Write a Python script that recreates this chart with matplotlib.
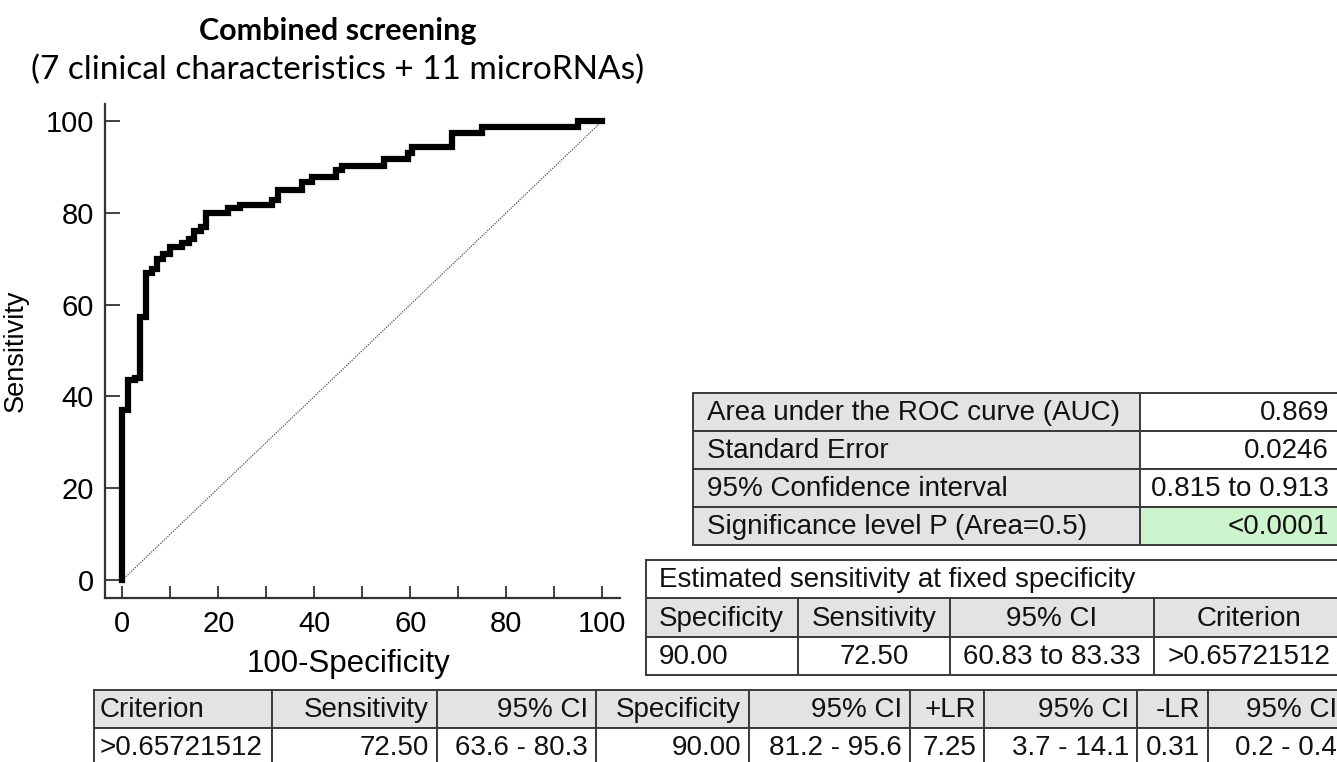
"""ROC curve of the combined screening model with its summary tables."""

import matplotlib
matplotlib.use("Agg")
import matplotlib.pyplot as plt
from matplotlib.patches import Rectangle

W, H = 1337, 762
TABLE_FONT = "Liberation Sans"

# ROC curve: 100-specificity at each step and the sensitivity reached there
roc_fpr = [0, 0, 1.25, 2.6, 3.7, 5.0, 6.2, 7.2, 8.4, 10.0, 12.5, 13.8, 15.0, 16.3,
           17.5, 22.0, 24.5, 31.2, 32.5, 37.5, 39.5, 44.5, 45.8, 54.5, 59.6, 60.3,
           68.7, 75.0, 95.0, 100]
roc_tpr = [0, 37.0, 43.6, 44.0, 57.4, 66.8, 67.8, 70.0, 71.0, 72.5, 73.4, 74.4, 76.0, 77.0,
           80.0, 81.0, 81.7, 82.8, 85.0, 86.8, 87.7, 89.3, 90.2, 91.7, 93.1, 94.3,
           97.3, 98.7, 100, 100]

x_ticks = [0, 20, 40, 60, 80, 100]
x_minor_ticks = [10, 30, 50, 70, 90]
y_ticks = [0, 20, 40, 60, 80, 100]

auc_labels = ["Area under the ROC curve (AUC)", "Standard Error",
              "95% Confidence interval", "Significance level P (Area=0.5)"]
auc_values = ["0.869", "0.0246", "0.815 to 0.913", "<0.0001"]

fixed_title = "Estimated sensitivity at fixed specificity"
fixed_header = ["Specificity", "Sensitivity", "95% CI", "Criterion"]
fixed_row = ["90.00", "72.50", "60.83 to 83.33", ">0.65721512"]

crit_header = ["Criterion", "Sensitivity", "95% CI", "Specificity", "95% CI",
               "+LR", "95% CI", "-LR", "95% CI"]
crit_row = [">0.65721512", "72.50", "63.6 - 80.3", "90.00", "81.2 - 95.6",
            "7.25", "3.7 - 14.1", "0.31", "0.2 - 0.4"]

GRAY = "#e3e3e3"
GREEN = "#cdf5cd"
EDGE = "#3a3a3a"

fig = plt.figure(figsize=(W / 100, H / 100), dpi=100)

# --- ROC plot ---
ax = fig.add_axes([105 / W, 1 - 598 / H, 515 / W, 494 / H])
ax.step(roc_fpr, roc_tpr, where="post", color="black", linewidth=4.5,
        solid_joinstyle="miter", zorder=3)
ax.plot([0, 100], [0, 100], color="#555555", linewidth=0.9, linestyle=(0, (1, 1)))
ax.set_xlim(-3.6, 103.7)
ax.set_ylim(-3.9, 103.7)
ax.set_xticks(x_ticks)
ax.set_xticks(x_minor_ticks, minor=True)
ax.set_yticks(y_ticks)
for side in ("top", "right"):
    ax.spines[side].set_visible(False)
for side in ("left", "bottom"):
    ax.spines[side].set_linewidth(1.6)
    ax.spines[side].set_color("#333333")
ax.tick_params(axis="both", which="both", direction="in", color="#333333",
               width=1.3, labelsize=21)
ax.tick_params(axis="x", which="both", length=9, pad=9)
ax.tick_params(axis="y", length=11, pad=8)
for lab in ax.get_xticklabels() + ax.get_yticklabels():
    lab.set_fontfamily(TABLE_FONT)
ax.set_xlabel("100-Specificity", fontsize=22.5, family=TABLE_FONT)
ax.xaxis.set_label_coords(0.472, -0.104)
ax.set_ylabel("Sensitivity", fontsize=19.5, family=TABLE_FONT)
ax.yaxis.set_label_coords(-0.148, 0.5)

fig.text(338 / W, 1 - 31 / H, "Combined screening", ha="center", va="center",
         fontsize=22, fontweight="bold", family="Lato")
fig.text(338 / W, 1 - 70 / H, "(7 clinical characteristics + 11 microRNAs)",
         ha="center", va="center", fontsize=24, family="Lato")

# --- tables, drawn in pixel coordinates on an overlay ---
tab = fig.add_axes([0, 0, 1, 1])
tab.set_xlim(0, W)
tab.set_ylim(H, 0)
tab.axis("off")
tab.patch.set_visible(False)


def cell(x0, x1, y0, y1, text, fill="white", align="left", pad=13):
    tab.add_patch(Rectangle((x0, y0), x1 - x0, y1 - y0, facecolor=fill,
                            edgecolor=EDGE, linewidth=1.4, clip_on=False))
    if align == "left":
        tx = x0 + pad
    elif align == "right":
        tx = x1 - pad
    else:
        tx = (x0 + x1) / 2
    tab.text(tx, (y0 + y1) / 2 + 1, text, ha=align, va="center",
             fontsize=20, family=TABLE_FONT, color="#111111")


# summary of the area under the curve
auc_cols = [693, 1140, 1345]
auc_rows = [393, 431, 469, 507, 545]
for i, (label, value) in enumerate(zip(auc_labels, auc_values)):
    y0, y1 = auc_rows[i], auc_rows[i + 1]
    cell(auc_cols[0], auc_cols[1], y0, y1, label, fill=GRAY, pad=14)
    fill = GREEN if i == len(auc_labels) - 1 else "white"
    cell(auc_cols[1], auc_cols[2], y0, y1, value, fill=fill, align="right", pad=16)

# sensitivity at fixed specificity
fix_cols = [646, 798, 950, 1154, 1345]
fix_rows = [560, 598, 637, 675]
cell(fix_cols[0], fix_cols[-1], fix_rows[0], fix_rows[1], fixed_title)
for j in range(len(fixed_header)):
    align = "left" if j == 0 else "center"
    cell(fix_cols[j], fix_cols[j + 1], fix_rows[1], fix_rows[2], fixed_header[j],
         fill=GRAY, align=align)
    cell(fix_cols[j], fix_cols[j + 1], fix_rows[2], fix_rows[3], fixed_row[j],
         align=align)

# criterion values
crit_cols = [94, 272, 437, 596, 749, 910, 984, 1137, 1208, 1345]
crit_rows = [690, 728, 766]
for j in range(len(crit_header)):
    align = "left" if j == 0 else "right"
    pad = 6 if j == 0 else 8
    cell(crit_cols[j], crit_cols[j + 1], crit_rows[0], crit_rows[1], crit_header[j],
         fill=GRAY, align=align, pad=pad)
    cell(crit_cols[j], crit_cols[j + 1], crit_rows[1], crit_rows[2], crit_row[j],
         align=align, pad=pad)

fig.savefig("out.png", dpi=100)
